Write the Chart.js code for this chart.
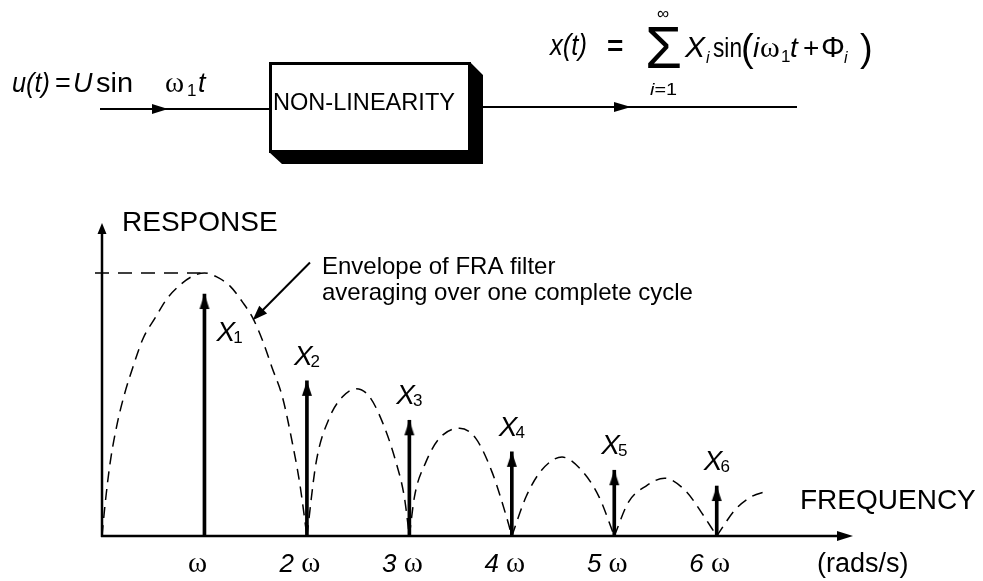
<!DOCTYPE html>
<html>
<head>
<meta charset="utf-8">
<script src="https://cdn.jsdelivr.net/npm/chart.js@4.4.1/dist/chart.umd.min.js"></script>
<style>
  html, body { margin: 0; padding: 0; background: #fff; }
  #wrap { position: relative; width: 983px; height: 581px; overflow: hidden; }
  #chart { position: absolute; left: 0; top: 0; }
  #block { position: absolute; left: 0; top: 0; }
</style>
</head>
<body>
<div id="wrap">
  <canvas id="chart" width="983" height="581" style="width:983px;height:581px"></canvas>
  <svg id="block" width="983" height="200" font-family="'Liberation Sans', Arial, sans-serif" fill="#000">
    <!-- input signal -->
    <text x="12" y="92" font-size="27" font-style="italic" textLength="38" lengthAdjust="spacingAndGlyphs">u(t)</text>
    <text x="55" y="92" font-size="27">=</text>
    <text x="73" y="92" font-size="27" font-style="italic">U</text>
    <text x="96" y="92" font-size="27" textLength="37" lengthAdjust="spacingAndGlyphs">sin</text>
    <text x="165" y="92" font-size="29" font-family="'Liberation Serif', serif">ω</text>
    <text x="187" y="96" font-size="17">1</text>
    <text x="198" y="92" font-size="27" font-style="italic">t</text>
    <line x1="100" y1="109" x2="270" y2="109" stroke="#000" stroke-width="2"/>
    <polygon points="152,104 168,109 152,114"/>
    <!-- non-linearity block with 3D shadow -->
    <polygon points="470,62 483,75 483,164 282,164 269,152 470,152"/>
    <rect x="270.5" y="63.5" width="199" height="88" fill="#fff" stroke="#000" stroke-width="3"/>
    <text x="273" y="110" font-size="23" textLength="182" lengthAdjust="spacingAndGlyphs">NON-LINEARITY</text>
    <!-- output signal -->
    <line x1="483" y1="107" x2="797" y2="107" stroke="#000" stroke-width="2"/>
    <polygon points="614,102 631,107 614,112"/>
    <text x="550" y="55" font-size="30" font-style="italic" textLength="37" lengthAdjust="spacingAndGlyphs">x(t)</text>
    <text x="607" y="55" font-size="28" font-weight="bold">=</text>
    <text x="645" y="68" font-size="60">Σ</text>
    <text x="657" y="19" font-size="17">∞</text>
    <text x="650" y="95" font-size="17" textLength="27" lengthAdjust="spacingAndGlyphs"><tspan font-style="italic">i</tspan>=1</text>
    <text x="685" y="57" font-size="30" font-style="italic">X</text>
    <text x="706" y="63" font-size="16" font-style="italic">i</text>
    <text x="713" y="57" font-size="28" textLength="29" lengthAdjust="spacingAndGlyphs">sin</text>
    <text x="741" y="61" font-size="38">(</text>
    <text x="753" y="57" font-size="28" font-style="italic">i</text>
    <text x="760" y="57" font-size="30" font-family="'Liberation Serif', serif">ω</text>
    <text x="781" y="62" font-size="17">1</text>
    <text x="790" y="57" font-size="28" font-style="italic">t</text>
    <text x="803" y="57" font-size="28">+</text>
    <text x="821" y="57" font-size="30">Φ</text>
    <text x="844" y="63" font-size="16" font-style="italic">i</text>
    <text x="860" y="61" font-size="38">)</text>
  </svg>
</div>
<script>
// ---------------- data ----------------
// harmonic orders (multiples of the fundamental ω) and their amplitudes X1..X6
const harmonicOrders = [1, 2, 3, 4, 5, 6];
const harmonicAmplitudes = [0.92, 0.59, 0.44, 0.32, 0.25, 0.19];
const harmonicNames = ['1', '2', '3', '4', '5', '6'];

// x-axis tick labels: multiplier in front of ω
const tickValues = [1, 2, 3, 4, 5, 6];
const tickMultipliers = ['', '2', '3', '4', '5', '6'];

// envelope of FRA filter, x in multiples of ω, y relative to peak
const envelopeX = [
  0, 0.03, 0.08, 0.15, 0.22, 0.30, 0.40, 0.52, 0.63, 0.75, 0.87, 1.00, 1.12, 1.25, 1.37, 1.47, 1.57, 1.66, 1.76, 1.86, 1.93, 2.00,
  2.09, 2.22, 2.35, 2.48, 2.61, 2.74, 2.87, 2.95, 3.00,
  3.05, 3.16, 3.29, 3.49, 3.65, 3.81, 3.95, 4.00,
  4.14, 4.29, 4.49, 4.68, 4.85, 5.00,
  5.14, 5.31, 5.49, 5.70, 5.85, 6.00,
  6.18, 6.34, 6.49
];
const envelopeY = [
  0, 0.12, 0.28, 0.43, 0.54, 0.64, 0.75, 0.83, 0.90, 0.95, 0.985, 1.00, 0.985, 0.95, 0.89, 0.83, 0.74, 0.64, 0.53, 0.35, 0.20, 0,
  0.28, 0.45, 0.53, 0.56, 0.53, 0.43, 0.28, 0.15, 0,
  0.15, 0.28, 0.37, 0.41, 0.37, 0.24, 0.07, 0,
  0.15, 0.25, 0.30, 0.25, 0.15, 0,
  0.13, 0.19, 0.22, 0.17, 0.09, 0,
  0.10, 0.15, 0.17
];

// ---------------- build datasets ----------------
const envelopeData = [];
envelopeX.forEach((x, i) => {
  envelopeData.push({ x: x, y: envelopeY[i] });
  if (envelopeY[i] === 0 && i > 0 && i < envelopeX.length - 1) {
    envelopeData.push({ x: x, y: null });   // cusp: start a new lobe
    envelopeData.push({ x: x, y: 0 });
  }
});
const harmonicData = harmonicOrders.map((x, i) => ({ x: x, y: harmonicAmplitudes[i] }));

// arrowhead image for the spectral lines (tip at image centre)
const head = document.createElement('canvas');
head.width = 12; head.height = 32;
(function () {
  const c = head.getContext('2d');
  c.fillStyle = '#000';
  c.beginPath();
  c.moveTo(6, 16);
  c.lineTo(11, 31);
  c.lineTo(1, 31);
  c.closePath();
  c.fill();
})();

const SANS = "'Liberation Sans', Arial, sans-serif";
const SERIF = "'Liberation Serif', 'Times New Roman', serif";

function arrowHead(ctx, tx, ty, angle, len, halfW) {
  ctx.save();
  ctx.translate(tx, ty);
  ctx.rotate(angle);
  ctx.beginPath();
  ctx.moveTo(0, 0);
  ctx.lineTo(-len, -halfW);
  ctx.lineTo(-len, halfW);
  ctx.closePath();
  ctx.fill();
  ctx.restore();
}

const decor = {
  id: 'decor',
  afterDraw(chart) {
    const ctx = chart.ctx;
    const xs = chart.scales.x, ys = chart.scales.y;
    const a = chart.chartArea;
    ctx.save();
    ctx.fillStyle = '#000';
    ctx.strokeStyle = '#000';

    // axes with arrows
    ctx.lineWidth = 2.5;
    ctx.beginPath();
    ctx.moveTo(a.left, a.bottom + 1);
    ctx.lineTo(a.left, a.top + 9);
    ctx.stroke();
    arrowHead(ctx, a.left, a.top, -Math.PI / 2, 11, 4.5);
    ctx.beginPath();
    ctx.moveTo(a.left - 1, a.bottom);
    ctx.lineTo(a.right - 12, a.bottom);
    ctx.stroke();
    arrowHead(ctx, a.right, a.bottom, 0, 16, 5);

    // dashed reference level at the envelope peak
    let iMax = 0;
    envelopeY.forEach((v, i) => { if (v > envelopeY[iMax]) iMax = i; });
    const py = ys.getPixelForValue(envelopeY[iMax]);
    ctx.lineWidth = 1.5;
    ctx.setLineDash([14, 9]);
    ctx.beginPath();
    ctx.moveTo(a.left - 7, py);
    ctx.lineTo(xs.getPixelForValue(envelopeX[iMax]) - 4, py);
    ctx.stroke();
    ctx.setLineDash([]);

    // annotation arrow
    const tipX = xs.getPixelForValue(1.47), tipY = ys.getPixelForValue(0.82);
    const tailX = xs.getPixelForValue(2.03), tailY = ys.getPixelForValue(1.04);
    const ang = Math.atan2(tipY - tailY, tipX - tailX);
    ctx.lineWidth = 2;
    ctx.beginPath();
    ctx.moveTo(tailX, tailY);
    ctx.lineTo(tipX - 10 * Math.cos(ang), tipY - 10 * Math.sin(ang));
    ctx.stroke();
    arrowHead(ctx, tipX, tipY, ang, 15, 5.5);
    ctx.font = '24px ' + SANS;
    ctx.textBaseline = 'alphabetic';
    ctx.textAlign = 'left';
    ctx.fillText('Envelope of FRA filter', tailX + 12, tailY + 12);
    ctx.fillText('averaging over one complete cycle', tailX + 12, tailY + 38);

    // axis titles
    ctx.font = '28px ' + SANS;
    ctx.fillText('RESPONSE', a.left + 20, a.top + 8);
    ctx.fillText('FREQUENCY', a.right - 53, a.bottom - 27);
    ctx.font = '27px ' + SANS;
    ctx.fillText('(rads/s)', a.right - 36, a.bottom + 36);

    // tick labels: "n ω"
    tickValues.forEach((v, i) => {
      const cx = xs.getPixelForValue(v) - 7;
      const m = tickMultipliers[i];
      ctx.font = 'italic 26px ' + SANS;
      const mw = m ? ctx.measureText(m + ' ').width : 0;
      ctx.font = '29px ' + SERIF;
      const ow = ctx.measureText('ω').width;
      const x0 = cx - (mw + ow) / 2;
      const base = a.bottom + 36;
      if (m) {
        ctx.font = 'italic 26px ' + SANS;
        ctx.fillText(m, x0, base);
      }
      ctx.font = '29px ' + SERIF;
      ctx.fillText('ω', x0 + mw, base);
    });

    // harmonic labels X1..X6
    harmonicOrders.forEach((h, i) => {
      const sx = xs.getPixelForValue(h);
      const ty = ys.getPixelForValue(harmonicAmplitudes[i]);
      let lx, ly;
      if (i === 0) { lx = sx + 12; ly = ty + 47; }
      else { lx = sx - 13; ly = ty - 16; }
      ctx.font = 'italic 28px ' + SANS;
      ctx.fillText('X', lx, ly);
      const w = ctx.measureText('X').width;
      ctx.font = '17px ' + SANS;
      ctx.fillText(harmonicNames[i], lx + w - 2, ly + 2);
    });
    ctx.restore();
  }
};

new Chart(document.getElementById('chart'), {
  type: 'scatter',
  data: {
    datasets: [
      {
        type: 'line',
        label: 'Envelope',
        data: envelopeData,
        borderColor: '#000',
        borderWidth: 1.5,
        borderDash: [11, 7],
        pointRadius: 0,
        fill: false,
        spanGaps: false,
        cubicInterpolationMode: 'monotone'
      },
      {
        type: 'bar',
        label: 'Harmonics',
        data: harmonicData,
        backgroundColor: '#000',
        borderWidth: 0,
        barThickness: 3
      },
      {
        type: 'scatter',
        label: 'Heads',
        data: harmonicData,
        pointStyle: head,
        pointRadius: 5
      }
    ]
  },
  options: {
    responsive: false,
    devicePixelRatio: 1,
    animation: false,
    events: [],
    layout: { padding: { left: 102, right: 130, top: 223, bottom: 45 } },
    scales: {
      x: { type: 'linear', display: false, min: 0, max: 7.33, offset: false },
      y: { type: 'linear', display: false, min: 0, max: 1.19 }
    },
    plugins: { legend: { display: false }, tooltip: { enabled: false } }
  },
  plugins: [decor]
});
</script>
</body>
</html>
